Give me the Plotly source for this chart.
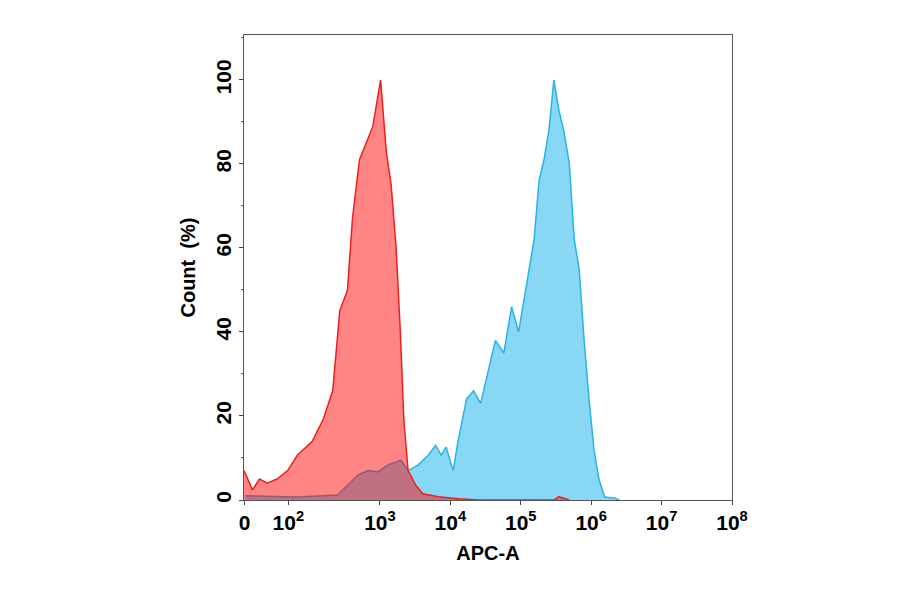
import plotly.graph_objects as go

# positions in decade units (0 sits at ~1.08 on this biexponential-like scale)
red_x = [1.07, 1.19, 1.29, 1.4, 1.54, 1.69, 1.83, 2.04, 2.19, 2.33, 2.43, 2.54, 2.61, 2.71, 2.83, 2.9, 2.94,
         3.01, 3.09, 3.16, 3.23, 3.29, 3.34, 3.4, 3.51, 3.61, 3.83, 4.11, 4.4, 5.47, 5.54, 5.69]
red_y = [7, 2.4, 5, 4, 5, 7, 10.7, 14, 19, 26, 45, 50, 67, 81, 86, 89, 93,
         100, 83, 75, 60, 40, 19, 7, 3.5, 1.5, 0.8, 0.3, 0, 0, 0.8, 0]

blue_x = [1.09, 1.83, 2.4, 2.54, 2.69, 2.83, 2.97, 3.11, 3.3, 3.4, 3.54, 3.69, 3.79, 3.87, 3.94, 4.04, 4.11,
          4.23, 4.33, 4.43, 4.54, 4.64, 4.76, 4.87, 4.97, 5.09, 5.19, 5.26, 5.33, 5.4, 5.47, 5.54, 5.61,
          5.69, 5.76, 5.83, 5.9, 5.97, 6.04, 6.11, 6.19, 6.33, 6.4]
blue_y = [1, 0.7, 1.2, 3.5, 6, 7, 6.7, 8.3, 9.5, 7, 8.3, 10.7, 13, 10.7, 12.6, 7, 14,
          24, 26, 23, 31, 38, 35, 46, 40, 52, 62, 76, 81, 88, 100, 93, 88,
          80, 62, 55, 38, 24, 12, 5, 0.7, 0.5, 0]

tick_pos = [1.08, 1.7, 3, 4, 5, 6, 7, 8]
tick_text = ["0", "10<sup>2</sup>", "10<sup>3</sup>", "10<sup>4</sup>", "10<sup>5</sup>",
             "10<sup>6</sup>", "10<sup>7</sup>", "10<sup>8</sup>"]

fig = go.Figure()
fig.add_trace(go.Scatter(x=blue_x, y=blue_y, mode="lines", fill="tozeroy",
                         line=dict(color="rgb(40,180,230)", width=1.5),
                         fillcolor="rgb(135,215,245)"))
fig.add_trace(go.Scatter(x=red_x, y=red_y, mode="lines", fill="tozeroy",
                         line=dict(color="rgb(240,30,30)", width=1.5),
                         fillcolor="rgba(255,0,0,0.48)"))

font = dict(family="Liberation Sans", size=20, color="black")
fig.update_layout(
    width=900, height=594, showlegend=False,
    plot_bgcolor="white", paper_bgcolor="white",
    margin=dict(l=236, r=176, t=27, b=102),
    font=font,
    xaxis=dict(range=[1.07, 8], tickvals=tick_pos, ticktext=tick_text,
               showline=True, linecolor="#555", mirror=True, showgrid=False, zeroline=False,
               ticks="outside", ticklen=4,
               tickfont=dict(family="Liberation Sans", size=21, weight="bold"),
               title=dict(text="APC-A", font=dict(size=20, weight="bold"), standoff=12)),
    yaxis=dict(range=[0, 110.7], tickvals=[0, 20, 40, 60, 80, 100], tickangle=-90,
               showline=True, linecolor="#555", mirror=True, showgrid=False, zeroline=False,
               ticks="outside", ticklen=4,
               tickfont=dict(family="Liberation Sans", size=21, weight="bold"),
               minor=dict(dtick=10, ticks="outside", ticklen=2, tickcolor="#555"),
               title=dict(text="Count  (%)", font=dict(size=20, weight="bold"), standoff=10)),
)
fig.write_html("out.html")
